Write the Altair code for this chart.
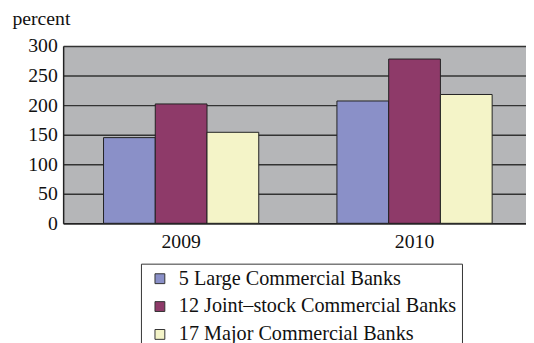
import altair as alt
import pandas as pd

years = ["2009", "2010"]
series = ["5 Large Commercial Banks", "12 Joint–stock Commercial Banks", "17 Major Commercial Banks"]
large5 = [145, 207]
joint12 = [202, 278]
major17 = [154, 218]
colors = ["#8a90c8", "#8e3a69", "#f4f4c8"]

rows = []
for i, y in enumerate(years):
    for s, vals in zip(series, [large5, joint12, major17]):
        rows.append({"year": y, "series": s, "value": vals[i]})
df = pd.DataFrame(rows)

SERIF = "Liberation Serif"

chart = alt.Chart(df).mark_bar(stroke="#222222", strokeWidth=1).encode(
    x=alt.X("year:N", sort=years,
            scale=alt.Scale(paddingInner=0.335, paddingOuter=0.159, align=0.544),
            axis=alt.Axis(title=None, labelAngle=0, ticks=False, domainColor="#222222",
                          domainWidth=1.5, labelFont=SERIF, labelFontSize=20,
                          labelColor="#111111", labelPadding=9, grid=False)),
    xOffset=alt.XOffset("series:N", sort=series),
    y=alt.Y("value:Q", scale=alt.Scale(domain=[0, 300]),
            axis=alt.Axis(values=[0, 50, 100, 150, 200, 250, 300], ticks=False,
                          grid=True, gridColor="#333333", gridWidth=1.5,
                          domainColor="#222222", domainWidth=1.5,
                          labelFont=SERIF, labelFontSize=20, labelColor="#111111",
                          labelPadding=6,
                          title="percent", titleAngle=0, titleFont=SERIF,
                          titleFontSize=20, titleFontWeight="normal",
                          titleColor="#111111", titleAlign="left",
                          titleBaseline="alphabetic", titleX=-52, titleY=-22)),
    color=alt.Color("series:N", sort=series,
                    scale=alt.Scale(domain=series, range=colors),
                    legend=alt.Legend(title=None, orient="none", legendX=79, legendY=221,
                                      direction="vertical", symbolType="square",
                                      symbolSize=100, symbolStrokeColor="#333333",
                                      symbolStrokeWidth=1, symbolOffset=4,
                                      labelFont=SERIF,
                                      labelFontSize=20.5, labelColor="#111111",
                                      labelLimit=400, rowPadding=7.3, labelOffset=9,
                                      strokeColor="#333333", fillColor="white",
                                      padding=5)),
).properties(
    width=470, height=180,
    background="white",
    autosize=alt.AutoSizeParams(type="none"),
    padding={"left": 56, "top": 36, "right": 0, "bottom": 124},
).configure_view(
    fill="#b5b6b8", stroke=None
)

chart.save("out.html", embed_options={"renderer": "svg", "actions": False})
